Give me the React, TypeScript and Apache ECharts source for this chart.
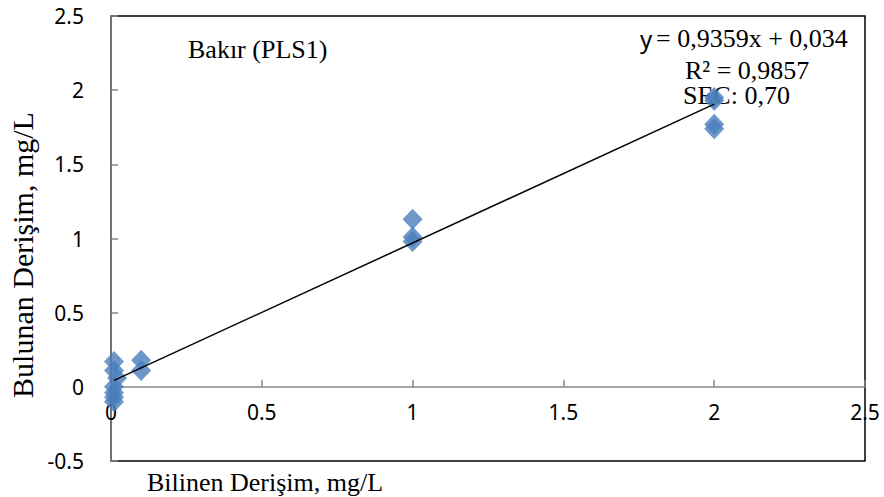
import React, { useEffect, useRef } from "react";
import * as echarts from "echarts";

// Known (spiked) copper concentration, mg/L
const knownConc = [0.01, 0.01, 0.02, 0.01, 0.01, 0.01, 0.01, 0.1, 0.1, 1, 1, 1, 2, 2, 2, 2];
// Concentration found by the PLS1 model, mg/L
const foundConc = [0.17, 0.11, 0.06, 0.0, -0.04, -0.07, -0.1, 0.18, 0.11, 1.13, 1.01, 0.98, 1.95, 1.93, 1.77, 1.74];

// Linear fit shown on the chart
const slope = 0.9359;
const intercept = 0.034;
const fitRange = [0.01, 2];

const chartTitle = "Bakır (PLS1)";
const xAxisTitle = "Bilinen Derişim, mg/L";
const yAxisTitle = "Bulunan Derişim, mg/L";
const eqLabel = "= 0,9359x + 0,034";
const r2Label = "R² = 0,9857";
const secLabel = "SEC: 0,70";

const SERIF = "'Liberation Serif', 'Times New Roman', serif";
const SANS = "'Liberation Sans Narrow', 'Noto Sans', sans-serif";

export default function App() {
  const ref = useRef<HTMLDivElement>(null);

  useEffect(() => {
    if (!ref.current) return;
    const chart = echarts.init(ref.current, null, { renderer: "svg" });
    const points = knownConc.map((x, i) => [x, foundConc[i]]);
    const fitLine = fitRange.map((x) => [x, slope * x + intercept]);

    chart.setOption({
      animation: false,
      backgroundColor: "#fff",
      grid: {
        left: 111,
        right: 19,
        top: 16,
        bottom: 36,
        show: true,
        borderColor: "#000",
        borderWidth: 1.5,
        backgroundColor: "transparent",
      },
      xAxis: {
        type: "value",
        min: 0,
        max: 2.5,
        interval: 0.5,
        axisLine: { onZero: true, lineStyle: { color: "#868686", width: 1.5 } },
        axisTick: { show: true, inside: true, length: 7, lineStyle: { color: "#868686", width: 1.5 } },
        splitLine: { show: false },
        axisLabel: {
          color: "#000",
          fontFamily: SANS,
          fontSize: 21,
          margin: -60,
          showMaxLabel: true,
          showMinLabel: true,
        },
      },
      yAxis: {
        type: "value",
        min: -0.5,
        max: 2.5,
        interval: 0.5,
        axisLine: { show: true, onZero: false, lineStyle: { color: "#868686", width: 1.5 } },
        axisTick: { show: true, inside: true, length: 7, lineStyle: { color: "#868686", width: 1.5 } },
        splitLine: { show: false },
        axisLabel: {
          color: "#000",
          fontFamily: SANS,
          fontSize: 21,
          margin: 27,
        },
      },
      series: [
        {
          type: "scatter",
          data: points,
          symbol: "diamond",
          symbolSize: [20, 21],
          itemStyle: { color: "#4A7EBB" },
          z: 2,
        },
        {
          type: "line",
          data: fitLine,
          symbol: "none",
          lineStyle: { color: "#000", width: 1.5 },
          z: 3,
        },
      ],
      graphic: [
        {
          type: "text",
          left: 188,
          top: 36,
          style: { text: chartTitle, font: `26px ${SERIF}`, fill: "#000" },
        },
        {
          type: "text",
          x: 640,
          y: 38,
          style: {
            text: "y",
            font: `24px ${SANS}`,
            fill: "#000",
            textVerticalAlign: "middle",
          },
        },
        {
          type: "text",
          x: 656,
          y: 38,
          style: { text: eqLabel, font: `26px ${SERIF}`, fill: "#000", textVerticalAlign: "middle" },
        },
        {
          type: "text",
          x: 685,
          y: 70,
          style: { text: r2Label, font: `26px ${SERIF}`, fill: "#000", textVerticalAlign: "middle" },
        },
        {
          type: "text",
          x: 683,
          y: 95,
          style: { text: secLabel, font: `26px ${SERIF}`, fill: "#000", textVerticalAlign: "middle" },
        },
        {
          type: "text",
          x: 147,
          y: 482,
          style: { text: xAxisTitle, font: `26px ${SERIF}`, fill: "#000", textVerticalAlign: "middle" },
        },
        {
          type: "text",
          x: 22,
          y: 255,
          rotation: Math.PI / 2,
          style: {
            text: yAxisTitle,
            font: `30px ${SERIF}`,
            fill: "#000",
            textAlign: "center",
            textVerticalAlign: "middle",
          },
        },
      ],
    });

    return () => chart.dispose();
  }, []);

  return (
    <div
      ref={ref}
      style={{ position: "fixed", left: 0, top: 0, width: 884, height: 497 }}
    />
  );
}
